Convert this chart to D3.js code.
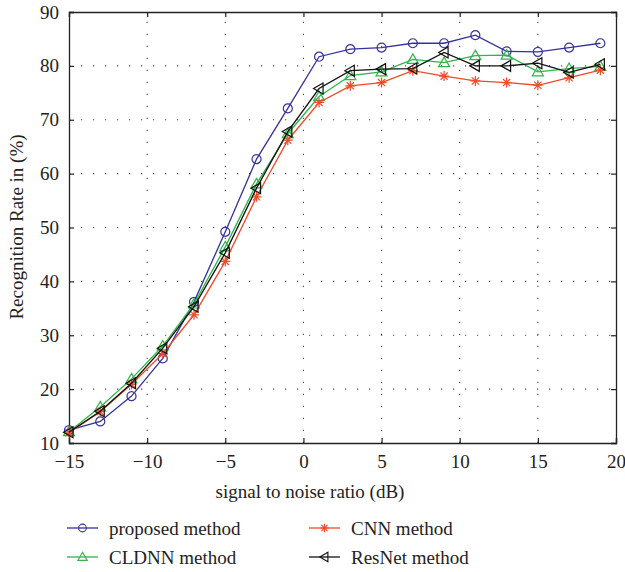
<!DOCTYPE html>
<html>
<head>
<meta charset="utf-8">
<script src="https://cdn.jsdelivr.net/npm/d3@7"></script>
<style>
  body { margin: 0; background: #fff; }
  svg text { font-family: "Liberation Serif", "DejaVu Serif", serif; fill: #222; }
</style>
</head>
<body>
<svg id="chart" width="625" height="572"></svg>
<script>
    // data
    var snr = [-15, -13, -11, -9, -7, -5, -3, -1, 1, 3, 5, 7, 9, 11, 13, 15, 17, 19];
    var proposed = [12.4, 14.0, 18.7, 25.7, 36.2, 49.2, 62.7, 72.1, 81.7, 83.1, 83.4, 84.2, 84.2, 85.7, 82.7, 82.6, 83.4, 84.2];
    var cldnn    = [12.1, 16.7, 21.9, 28.0, 35.8, 46.4, 58.1, 67.4, 74.3, 78.2, 78.9, 81.2, 80.6, 81.9, 82.0, 78.9, 79.5, 79.9];
    var cnn      = [11.9, 15.8, 20.9, 26.6, 33.8, 43.7, 55.7, 66.2, 73.2, 76.3, 76.9, 79.1, 78.1, 77.2, 76.9, 76.4, 77.8, 79.2];
    var resnet   = [12.0, 15.9, 21.1, 27.6, 35.3, 45.3, 57.3, 67.8, 75.8, 79.1, 79.4, 79.5, 82.5, 80.0, 80.0, 80.5, 78.8, 80.3];
    var xTicks = [-15, -10, -5, 0, 5, 10, 15, 20];
    var yTicks = [10, 20, 30, 40, 50, 60, 70, 80, 90];

    var series = [
        {name: "proposed method", values: proposed, color: "#35329c", marker: "circle"},
        {name: "CLDNN method", values: cldnn, color: "#2db54a", marker: "triUp"},
        {name: "CNN method", values: cnn, color: "#f04a26", marker: "star"},
        {name: "ResNet method", values: resnet, color: "#111111", marker: "triLeft"}
    ];

    var svg = d3.select("#chart");
    var margin = {left: 69, top: 12, right: 616, bottom: 443};

    var x = d3.scaleLinear().domain([-15, 20]).range([margin.left, margin.right]);
    var y = d3.scaleLinear().domain([10, 90]).range([margin.bottom, margin.top]);

    // dotted grid
    var grid = svg.append("g").attr("stroke", "#444").attr("stroke-width", 1.1)
        .attr("stroke-dasharray", "1.2,10.8");
    grid.selectAll(".gx").data(xTicks.slice(1, -1)).enter().append("line")
        .attr("x1", d => x(d)).attr("x2", d => x(d))
        .attr("y1", margin.bottom).attr("y2", margin.top);
    grid.selectAll(".gy").data(yTicks.slice(1, -1)).enter().append("line")
        .attr("y1", d => y(d)).attr("y2", d => y(d))
        .attr("x1", margin.left).attr("x2", margin.right);

    // axes, ticks point inward on all four sides
    var tickSize = 5;
    svg.append("g").attr("transform", "translate(0," + margin.bottom + ")")
        .call(d3.axisBottom(x).tickValues(xTicks).tickSize(-tickSize).tickPadding(12).tickFormat(d3.format("d")));
    svg.append("g").attr("transform", "translate(0," + margin.top + ")")
        .call(d3.axisTop(x).tickValues(xTicks).tickSize(-tickSize).tickFormat(""));
    svg.append("g").attr("transform", "translate(" + margin.left + ",0)")
        .call(d3.axisLeft(y).tickValues(yTicks).tickSize(-tickSize).tickPadding(10));
    svg.append("g").attr("transform", "translate(" + margin.right + ",0)")
        .call(d3.axisRight(y).tickValues(yTicks).tickSize(-tickSize).tickFormat(""));

    svg.selectAll(".domain").attr("stroke", "#222").attr("stroke-width", 1.3);
    svg.selectAll(".tick line").attr("stroke", "#222").attr("stroke-width", 1.2);
    svg.selectAll(".tick text")
        .style("font-family", "'Liberation Serif', serif")
        .style("font-size", "19px").attr("fill", "#222");

    // axis titles
    svg.append("text")
        .attr("x", 310).attr("y", 498)
        .attr("text-anchor", "middle")
        .style("font-size", "19px")
        .text("signal to noise ratio (dB)");
    svg.append("text")
        .attr("transform", "translate(23,227) rotate(-90)")
        .attr("text-anchor", "middle")
        .style("font-size", "19px")
        .text("Recognition Rate in (%)");

    // marker shapes
    function markerPath(type) {
        if (type == "circle") return d3.symbol(d3.symbolCircle, 64)();
        if (type == "triUp") return "M0,-5.5L5.5,4L-5.5,4Z";
        if (type == "triLeft") return "M-5.5,0L4,-5.5L4,5.5Z";
        // star: plus + cross
        return "M-5,0L5,0M0,-5L0,5M-3.6,-3.6L3.6,3.6M-3.6,3.6L3.6,-3.6";
    }

    var line = d3.line().x(d => x(d[0])).y(d => y(d[1]));

    series.forEach(s => {
        var pts = snr.map((v, i) => [v, s.values[i]]);
        var g = svg.append("g");
        g.append("path")
            .datum(pts)
            .attr("fill", "none")
            .attr("stroke", s.color)
            .attr("stroke-width", 1.3)
            .attr("d", line);
        g.selectAll(".m").data(pts).enter().append("path")
            .attr("transform", d => "translate(" + x(d[0]) + "," + y(d[1]) + ")")
            .attr("d", markerPath(s.marker))
            .attr("fill", "none")
            .attr("stroke", s.color)
            .attr("stroke-width", 1.2);
    });

    // legend, two columns
    var legendPos = [[67, 528], [67, 557], [309, 528], [309, 557]];
    series.forEach((s, i) => {
        var lx = legendPos[i][0], ly = legendPos[i][1];
        var g = svg.append("g").attr("transform", "translate(" + lx + "," + ly + ")");
        g.append("line").attr("x1", 0).attr("x2", 31).attr("y1", 0).attr("y2", 0)
            .attr("stroke", s.color).attr("stroke-width", 1.3);
        g.append("path").attr("transform", "translate(15.5,0) scale(0.85)")
            .attr("d", markerPath(s.marker))
            .attr("fill", "none").attr("stroke", s.color).attr("stroke-width", 1.3);
        g.append("text").attr("x", 42).attr("y", 6.5)
            .style("font-size", "19px")
            .text(s.name);
    });
</script>
</body>
</html>
